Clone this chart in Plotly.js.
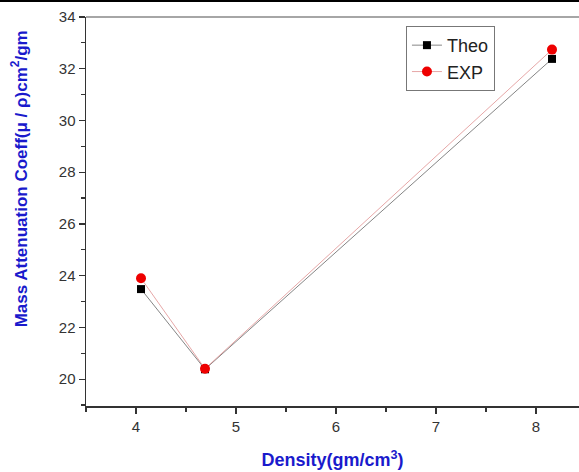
<!DOCTYPE html>
<html><head><meta charset="utf-8">
<script src="https://cdn.plot.ly/plotly-3.0.1.min.js"></script>
<style>html,body{margin:0;padding:0;background:#fff;}#bar{position:absolute;left:0;top:0;width:579px;height:2px;background:#000;z-index:5;}#chart{width:579px;height:472px;}</style>
</head><body><div id="bar"></div><div id="chart"></div>
<script>
var density = [4.05, 4.69, 8.16];
var theo = [23.48, 20.38, 32.38];
var expv = [23.9, 20.4, 32.74];
var xTicks = [4, 5, 6, 7, 8];
var yTicks = [20, 22, 24, 26, 28, 30, 32, 34];

var traces = [
  {x: density, y: theo, name: 'Theo', mode: 'lines+markers', type: 'scatter',
   line: {color: '#666666', width: 0.8},
   marker: {symbol: 'square', size: 8, color: '#000000'}},
  {x: density, y: expv, name: 'EXP', mode: 'lines+markers', type: 'scatter',
   line: {color: '#e09090', width: 0.8},
   marker: {symbol: 'circle', size: 10, color: '#ee0000'}}
];
var axFont = {family: 'Arial, Liberation Sans, sans-serif', size: 15, color: '#333'};
var layout = {
  width: 579, height: 472,
  margin: {l: 86, r: 0, t: 17, b: 66},
  paper_bgcolor: '#fff', plot_bgcolor: '#fff',
  showlegend: true,
  legend: {x: 0.649, y: 0.977, xanchor: 'left', yanchor: 'top',
    bordercolor: '#777', borderwidth: 1, bgcolor: '#fff',
    font: {family: 'Arial, Liberation Sans, sans-serif', size: 18, color: '#222'},
    tracegroupgap: 0, itemwidth: 30},
  xaxis: {range: [3.5, 8.43], tickvals: xTicks, ticktext: xTicks.map(String),
    ticks: 'outside', ticklen: 6, tickwidth: 1.2, tickcolor: '#333',
    minor: {dtick: 0.5, tick0: 0, ticks: 'outside', ticklen: 4, tickcolor: '#333', showgrid: false},
    showline: true, linecolor: '#333', linewidth: 1.5, mirror: false,
    showgrid: false, zeroline: false, tickfont: axFont,
    title: {text: '<b>Density(gm/cm<sup>3</sup>)</b>', standoff: 20,
      font: {family: 'Arial, Liberation Sans, sans-serif', size: 18, color: '#1a1acc'}}},
  yaxis: {range: [18.96, 34], tickvals: yTicks, ticktext: yTicks.map(String),
    ticks: 'outside', ticklen: 6, tickwidth: 1.2, tickcolor: '#333',
    minor: {dtick: 1, tick0: 0, ticks: 'outside', ticklen: 4, tickcolor: '#333', showgrid: false},
    showline: true, linecolor: '#333', linewidth: 1.5, mirror: false,
    showgrid: false, zeroline: false, tickfont: axFont},
  annotations: [{text: '<b>Mass Attenuation Coeff(μ / ρ)cm<sup>2</sup>/gm</b>',
    xref: 'paper', yref: 'paper', x: -0.134, y: 0.585, xanchor: 'center', yanchor: 'middle',
    textangle: -90, showarrow: false,
    font: {family: 'Arial, Liberation Sans, sans-serif', size: 17, color: '#1a1acc'}}],
  shapes: [{type: 'line', xref: 'paper', yref: 'paper', x0: 0, x1: 1, y0: 1, y1: 1,
    line: {color: '#888', width: 1.5}}]
};
Plotly.newPlot('chart', traces, layout, {displayModeBar: false, staticPlot: true});
</script></body></html>
